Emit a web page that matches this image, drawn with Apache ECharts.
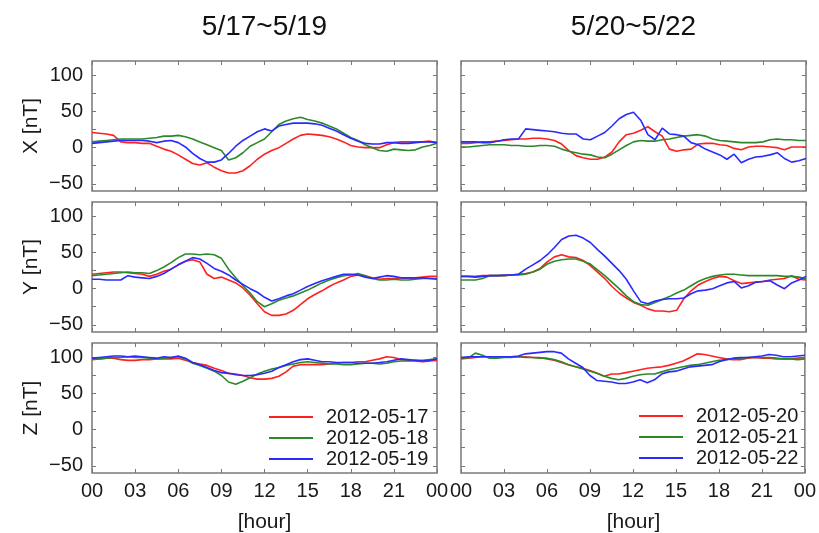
<!DOCTYPE html>
<html>
<head>
<meta charset="utf-8">
<script src="https://cdn.jsdelivr.net/npm/echarts@6/dist/echarts.min.js"></script>
<style>
  html, body { margin: 0; padding: 0; background: #fff; }
  #main { width: 819px; height: 533px; }
</style>
</head>
<body>
<div id="main"></div>
<script>
// 时间轴 (hour), half-hour steps
var hours = [0, 0.5, 1, 1.5, 2, 2.5, 3, 3.5, 4, 4.5, 5, 5.5, 6, 6.5, 7, 7.5, 8, 8.5, 9, 9.5,
  10, 10.5, 11, 11.5, 12, 12.5, 13, 13.5, 14, 14.5, 15, 15.5, 16, 16.5, 17, 17.5, 18, 18.5, 19, 19.5,
  20, 20.5, 21, 21.5, 22, 22.5, 23, 23.5, 24];

var titles = ['5/17~5/19', '5/20~5/22'];
var compNames = ['X [nT]', 'Y [nT]', 'Z [nT]'];
var dates = [['2012-05-17', '2012-05-18', '2012-05-19'], ['2012-05-20', '2012-05-21', '2012-05-22']];
var xTickLabels = ['00', '03', '06', '09', '12', '15', '18', '21', '00'];
var yTicks = [-50, -25, 0, 25, 50, 75, 100];
var yLabels = [-50, 0, 50, 100];

// X component
var x17 = [21, 20, 19, 17, 8, 7, 7, 6, 6, 2, -2, -5, -10, -16, -22, -24, -21, -27, -32, -35,
  -35, -32, -25, -16, -9, -4, 0, 6, 12, 17, 19, 18, 17, 15, 12, 8, 3, 1, 0, 0,
  0, 4, 7, 8, 8, 8, 8, 9, 7];
var x18 = [8, 9, 10, 11, 12, 12, 12, 12, 13, 14, 16, 16, 17, 15, 12, 8, 4, 0, -4, -17,
  -14, -7, 2, 7, 12, 22, 32, 37, 40, 42, 39, 37, 34, 30, 26, 20, 14, 10, 4, 0,
  -4, -5, -2, -3, -4, -3, 1, 3, 6];
var x19 = [6, 7, 8, 9, 10, 10, 10, 10, 9, 7, 9, 10, 7, 1, -8, -15, -20, -20, -17, -8,
  2, 10, 16, 22, 26, 23, 30, 32, 34, 34, 34, 33, 31, 27, 23, 18, 13, 9, 6, 5,
  5, 7, 7, 6, 6, 7, 8, 8, 7];
var x20 = [6, 6, 7, 8, 8, 9, 10, 11, 12, 12, 13, 13, 12, 10, 5, -4, -11, -14, -16, -16,
  -13, -6, 8, 18, 20, 24, 29, 22, 16, -2, -5, -3, -2, 5, 6, 6, 4, 3, -1, -3,
  1, 2, 2, 1, 0, -3, 1, 1, 1];
var x21 = [1, 1, 2, 3, 4, 4, 4, 3, 3, 2, 2, 3, 3, 2, -2, -5, -7, -9, -10, -13,
  -14, -9, -3, 3, 8, 10, 9, 9, 11, 12, 14, 16, 17, 18, 16, 12, 10, 9, 8, 7,
  7, 7, 8, 11, 12, 11, 11, 10, 10];
var x22 = [8, 8, 8, 7, 7, 9, 11, 12, 12, 26, 25, 24, 23, 22, 20, 19, 19, 12, 11, 16,
  21, 30, 40, 46, 49, 38, 18, 11, 27, 19, 18, 16, 7, 4, -2, -6, -10, -16, -9, -21,
  -16, -13, -12, -10, -7, -15, -20, -18, -15];

// Y component
var y17 = [20, 21, 22, 23, 23, 22, 21, 20, 17, 20, 24, 27, 33, 38, 40, 37, 20, 14, 16, 12,
  8, 1, -9, -21, -32, -37, -37, -35, -30, -22, -14, -8, -3, 3, 8, 12, 17, 19, 18, 15,
  13, 14, 14, 15, 15, 15, 16, 17, 17];
var y18 = [18, 19, 20, 21, 22, 23, 22, 22, 21, 25, 30, 36, 43, 48, 48, 47, 48, 47, 42, 27,
  15, 4, -6, -18, -25, -21, -16, -13, -10, -6, -2, 3, 8, 12, 15, 18, 19, 21, 18, 14,
  12, 12, 13, 12, 12, 13, 14, 14, 14];
var y19 = [13, 13, 12, 12, 12, 18, 16, 15, 14, 17, 21, 27, 33, 38, 43, 41, 35, 28, 24, 19,
  12, 6, 0, -5, -12, -17, -14, -10, -7, -2, 3, 7, 11, 14, 17, 20, 20, 19, 16, 14,
  16, 18, 17, 15, 15, 15, 15, 14, 13];
var y20 = [17, 17, 17, 18, 18, 18, 18, 19, 20, 21, 23, 28, 37, 44, 47, 44, 43, 39, 32, 23,
  14, 3, -6, -13, -19, -23, -28, -31, -31, -32, -30, -14, -3, 5, 10, 14, 17, 16, 11, 7,
  8, 9, 10, 12, 13, 14, 18, 13, 12];
var y21 = [12, 12, 12, 14, 18, 18, 18, 19, 19, 20, 23, 27, 34, 38, 40, 41, 41, 38, 34, 26,
  18, 9, 0, -10, -18, -22, -23, -19, -15, -11, -6, -2, 4, 10, 14, 17, 19, 20, 20, 19,
  18, 18, 18, 18, 18, 17, 17, 16, 14];
var y22 = [17, 17, 16, 17, 18, 18, 19, 19, 20, 27, 33, 39, 47, 57, 68, 73, 74, 70, 64, 54,
  45, 35, 25, 13, -3, -18, -21, -17, -15, -14, -14, -13, -7, -3, -2, 0, 4, 8, 10, 1,
  4, 9, 10, 11, 5, 0, 8, 12, 17];

// Z component
var z17 = [97, 98, 99, 99, 97, 96, 96, 97, 97, 98, 98, 98, 99, 96, 93, 91, 89, 85, 82, 78,
  77, 75, 72, 70, 70, 71, 74, 80, 88, 90, 90, 90, 90, 91, 92, 93, 93, 94, 94, 96,
  98, 101, 100, 97, 96, 95, 94, 95, 96];
var z18 = [98, 98, 99, 100, 100, 101, 100, 100, 99, 98, 99, 100, 101, 98, 92, 89, 85, 81, 75, 66,
  63, 67, 72, 77, 81, 84, 86, 89, 91, 93, 94, 93, 92, 91, 91, 90, 90, 91, 92, 92,
  91, 92, 94, 95, 95, 96, 96, 97, 98];
var z19 = [99, 100, 101, 102, 102, 101, 102, 101, 100, 99, 101, 100, 102, 99, 93, 90, 86, 82, 79, 78,
  76, 75, 75, 76, 78, 81, 86, 90, 94, 97, 98, 96, 94, 94, 93, 93, 93, 92, 92, 92,
  93, 94, 96, 98, 97, 96, 95, 96, 98];
var z20 = [98, 99, 100, 101, 101, 101, 101, 101, 101, 101, 100, 100, 98, 96, 93, 90, 87, 85, 82, 78,
  74, 77, 77, 79, 81, 83, 85, 86, 87, 89, 92, 95, 100, 105, 104, 102, 100, 98, 97, 97,
  99, 100, 99, 99, 98, 98, 98, 99, 100];
var z21 = [100, 99, 106, 103, 99, 99, 100, 100, 101, 100, 100, 99, 99, 97, 94, 90, 87, 84, 81, 78,
  74, 71, 69, 71, 74, 76, 77, 77, 80, 83, 85, 87, 89, 90, 92, 94, 96, 97, 98, 99,
  100, 100, 100, 100, 99, 98, 98, 97, 98];
var z22 = [100, 101, 101, 101, 101, 101, 101, 101, 102, 105, 106, 107, 108, 108, 106, 98, 92, 86, 75, 68,
  67, 66, 64, 64, 66, 69, 65, 69, 77, 80, 81, 84, 87, 88, 89, 90, 94, 97, 99, 100,
  100, 101, 102, 104, 103, 101, 101, 102, 103];

// panels[row][col] = 3 days
var panels = [
  [[x17, x18, x19], [x20, x21, x22]],
  [[y17, y18, y19], [y20, y21, y22]],
  [[z17, z18, z19], [z20, z21, z22]]
];
var lineColors = ['#ff2020', '#2a8a2a', '#2a2aff'];

var FONT = '"Liberation Sans", Arial, Helvetica, sans-serif';
var colLeft = [92, 461];
var rowTop = [61, 202, 343];
var W = 345, H = 130;

var chart = echarts.init(document.getElementById('main'));

var grid = [], xAxis = [], yAxis = [], series = [], graphic = [];

function fmtY(v) {
  return v < 0 ? '\u2212' + Math.abs(v) : String(v);
}

for (var r = 0; r < 3; r++) {
  for (var c = 0; c < 2; c++) {
    var gi = r * 2 + c;
    grid.push({
      left: colLeft[c], top: rowTop[r], width: W, height: H,
      show: true, borderColor: '#7a7a7a', borderWidth: 1.5, backgroundColor: 'transparent'
    });
    ['bottom', 'top'].forEach(function (pos) {
      xAxis.push({
        gridIndex: gi, type: 'value', position: pos,
        min: 0, max: 24, interval: 3,
        axisLine: { show: false, onZero: false },
        axisTick: { inside: true, length: 4, lineStyle: { color: '#777', width: 1 } },
        axisLabel: {
          show: pos === 'bottom' && r === 2,
          formatter: function (v) { return xTickLabels[Math.round(v / 3)]; },
          fontSize: 20, color: '#1a1a1a', fontFamily: FONT, margin: 8
        },
        splitLine: { show: false }
      });
    });
    ['left', 'right'].forEach(function (pos) {
      yAxis.push({
        gridIndex: gi, type: 'value', position: pos,
        min: -60, max: 120,
        axisLine: { show: false, onZero: false },
        axisTick: { inside: true, length: 4, customValues: yTicks, lineStyle: { color: '#777', width: 1 } },
        axisLabel: {
          show: pos === 'left' && c === 0,
          customValues: yLabels,
          formatter: fmtY,
          fontSize: 20, color: '#1a1a1a', fontFamily: FONT, margin: 9
        },
        splitLine: { show: false }
      });
    });
    for (var k = 0; k < 3; k++) {
      var vals = panels[r][c][k];
      series.push({
        type: 'line',
        name: dates[c][k],
        xAxisIndex: gi * 2,
        yAxisIndex: gi * 2,
        data: hours.map(function (h, i) { return [h, vals[i]]; }),
        symbol: 'none',
        showSymbol: false,
        lineStyle: { width: 1.6, color: lineColors[k] },
        itemStyle: { color: lineColors[k] },
        clip: true,
        z: 2 + k
      });
    }
  }
}

// 标题
for (var c2 = 0; c2 < 2; c2++) {
  graphic.push({
    type: 'text', x: colLeft[c2] + W / 2, y: 27,
    style: { text: titles[c2], textAlign: 'center', textVerticalAlign: 'middle', font: '28px ' + FONT, fill: '#111' }
  });
  graphic.push({
    type: 'text', x: colLeft[c2] + W / 2, y: 522,
    style: { text: '[hour]', textAlign: 'center', textVerticalAlign: 'middle', font: '21px ' + FONT, fill: '#1a1a1a' }
  });
}
for (var r2 = 0; r2 < 3; r2++) {
  graphic.push({
    type: 'text', x: 31, y: rowTop[r2] + H / 2, rotation: Math.PI / 2,
    style: { text: compNames[r2], textAlign: 'center', textVerticalAlign: 'middle', font: '21px ' + FONT, fill: '#1a1a1a' }
  });
}

var legendBase = {
  orient: 'vertical', icon: 'rect', itemWidth: 44, itemHeight: 2, itemGap: 1,
  textStyle: { fontSize: 20, color: '#1a1a1a', fontFamily: FONT, padding: [0, 0, 0, 8], lineHeight: 20 }
};
var option = {
  animation: false,
  backgroundColor: '#fff',
  grid: grid,
  xAxis: xAxis,
  yAxis: yAxis,
  legend: [
    Object.assign({}, legendBase, { data: dates[0], left: 264, top: 402 }),
    Object.assign({}, legendBase, { data: dates[1], left: 634, top: 401 })
  ],
  graphic: graphic,
  series: series
};
chart.setOption(option);
</script>
</body>
</html>
